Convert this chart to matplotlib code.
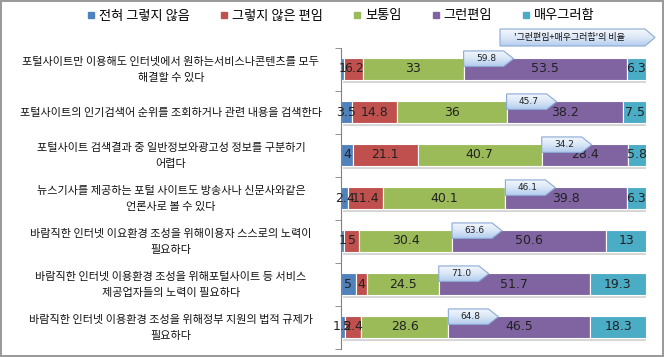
import matplotlib
matplotlib.use("Agg")
import matplotlib.pyplot as plt
import numpy as np
from matplotlib.patches import Polygon
from matplotlib.lines import Line2D
import matplotlib.patheffects as pe
import matplotlib.transforms as mtransforms
from matplotlib.colors import LinearSegmentedColormap

plt.rcParams['font.family'] = ['Noto Sans CJK KR', 'DejaVu Sans']

categories = [
    "포털사이트만 이용해도 인터넷에서 원하는서비스나콘텐츠를 모두\n해결할 수 있다",
    "포털사이트의 인기검색어 순위를 조회하거나 관련 내용을 검색한다",
    "포털사이트 검색결과 중 일반정보와광고성 정보를 구분하기\n어렵다",
    "뉴스기사를 제공하는 포털 사이트도 방송사나 신문사와같은\n언론사로 볼 수 있다",
    "바람직한 인터넷 이요환경 조성을 위해이용자 스스로의 노력이\n필요하다",
    "바람직한 인터넷 이용환경 조성을 위해포털사이트 등 서비스\n제공업자들의 노력이 필요하다",
    "바람직한 인터넷 이용환경 조성을 위해정부 지원의 법적 규제가\n필요하다",
]
series_names = ["전혀 그렇지 않음", "그렇지 않은 편임", "보통임", "그런편임", "매우그러함"]
not_at_all = [1, 3.5, 4, 2.4, 1, 5, 1.2]
not_really = [6.2, 14.8, 21.1, 11.4, 5, 4, 5.4]
neutral = [33, 36, 40.7, 40.1, 30.4, 24.5, 28.6]
somewhat = [53.5, 38.2, 28.4, 39.8, 50.6, 51.7, 46.5]
very = [6.3, 7.5, 5.8, 6.3, 13, 19.3, 18.3]
agree_ratio = [59.8, 45.7, 34.2, 46.1, 63.6, 71.0, 64.8]
callout_title = "'그런편임+매우그러함'의 비율"

colors = ['#4F81BD', '#C0504D', '#9BBB59', '#8064A2', '#4BACC6']

W, H = 664, 357
fig = plt.figure(figsize=(W / 100, H / 100), dpi=100)
fig.patch.set_facecolor('white')
fig.patch.set_edgecolor('#9a9a9a')
fig.patch.set_linewidth(1.5)

ax = fig.add_axes([341 / W, (H - 348.5) / H, 305 / W, 301 / H])
series = [not_at_all, not_really, neutral, somewhat, very]
data = np.array(series, dtype=float)
totals = data.sum(axis=0)
pct = data / totals * 100
y = np.arange(len(categories))
left = np.zeros(len(categories))
purple_left = None
for k, (vals, raw) in enumerate(zip(pct, data)):
    bars = ax.barh(y, vals, left=left, height=0.5, color=colors[k],
                   edgecolor='white', linewidth=0.8, zorder=2)
    for b in bars:
        b.set_path_effects([pe.withSimplePatchShadow(offset=(1.5, -2), shadow_rgbFace='#888888', alpha=0.35), pe.Normal()])
    for i in range(len(categories)):
        ax.text(left[i] + vals[i] / 2, y[i], f"{raw[i]:g}", ha='center', va='center',
                fontsize=9, color='#222222', family='DejaVu Sans', zorder=5)
    if k == 3:
        purple_left = left.copy()
    left = left + vals

# gradient callouts
grad = np.linspace(0, 1, 64).reshape(-1, 1)
cmap = LinearSegmentedColormap.from_list('cb', ['#F4F8FD', '#DCE8F7', '#B5CDEE'])
wdat = 50 / 305 * 100
tip = 10 / 305 * 100
for i in range(len(categories)):
    x0 = purple_left[i]
    top = y[i] - 0.42
    bot = y[i] - 0.06
    mid = (top + bot) / 2
    pts = [(x0, top), (x0 + wdat - tip, top), (x0 + wdat, mid), (x0 + wdat - tip, bot), (x0, bot)]
    poly = Polygon(pts, closed=True, facecolor='none', edgecolor='#8BAAD6', linewidth=0.8, zorder=7)
    ax.add_patch(poly)
    im = ax.imshow(grad, extent=(x0, x0 + wdat, bot, top), cmap=cmap, aspect='auto', zorder=6,
                   origin='upper')
    im.set_clip_path(poly)
    ax.text(x0 + (wdat - tip) / 2 + 0.8, mid, f"{agree_ratio[i]:.1f}", ha='center', va='center',
            fontsize=6.5, color='#222222', family='DejaVu Sans', zorder=8)
ax.set_xlim(0, 100)
ax.set_ylim(len(categories) - 0.5, -0.5)

for s in ['top', 'right', 'bottom']:
    ax.spines[s].set_visible(False)
ax.spines['left'].set_color('#808080')
ax.set_xticks([])
ax.set_yticks([])
ax.set_yticks(np.arange(len(categories) + 1) - 0.5, minor=True)
ax.tick_params(axis='y', which='minor', length=4, color='#808080')

trans = mtransforms.blended_transform_factory(fig.transFigure, ax.transData)
for i, c in enumerate(categories):
    ax.text(171 / W, y[i] + 0.02, c, transform=trans, ha='center', va='center', multialignment='center',
            fontsize=8, color='#111111', linespacing=1.75)

# legend
handles = [Line2D([0], [0], marker='s', linestyle='none', markersize=4.5,
                  markerfacecolor=colors[k], markeredgecolor=colors[k]) for k in range(5)]
fig.legend(handles, series_names, loc='center', bbox_to_anchor=(341 / W, 1 - 16 / H), ncol=5,
           frameon=False, fontsize=9.5, handlelength=0.6, handletextpad=0.3, columnspacing=2.3,
           borderaxespad=0)

# title callout
cax = fig.add_axes([500 / W, (H - 46) / H, 155 / W, 17 / H])
cax.set_xlim(0, 1)
cax.set_ylim(0, 1)
cax.axis('off')
tipf = 10 / 155
tpoly = Polygon([(0, 1), (1 - tipf, 1), (1, 0.5), (1 - tipf, 0), (0, 0)], closed=True,
                facecolor='none', edgecolor='#8BAAD6', linewidth=0.8, zorder=3,
                transform=cax.transAxes, clip_on=False)
cax.add_patch(tpoly)
tim = cax.imshow(grad, extent=(0, 1, 0, 1), cmap=cmap, aspect='auto', zorder=2, origin='upper')
tim.set_clip_path(tpoly)
cax.text(0.45, 0.5, callout_title, ha='center', va='center', fontsize=6.5, color='#111111', zorder=4)

fig.savefig('out.png', dpi=100)
